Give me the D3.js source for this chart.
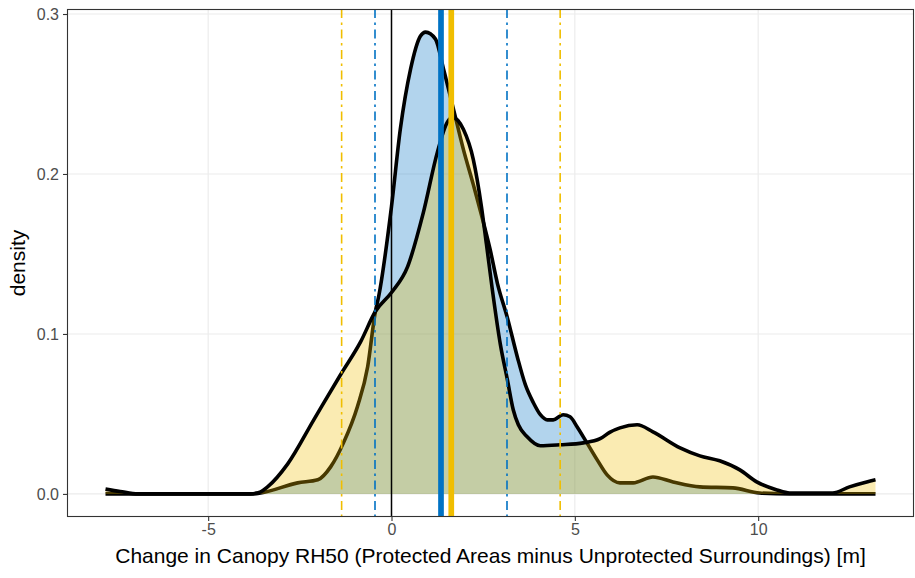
<!DOCTYPE html>
<html>
<head>
<meta charset="utf-8">
<script src="https://cdn.jsdelivr.net/npm/d3@7"></script>
<style>
  html, body { margin: 0; padding: 0; background: #fff; }
  svg { display: block; }
  text { font-family: "Liberation Sans", Arial, Helvetica, sans-serif; }
</style>
</head>
<body>
<svg id="chart" width="915" height="578"></svg>
<script>
// Kernel density estimates of the change in canopy RH50 for two groups of sites
const blueX = [-7.8, -3.84, -3.57, -2.56, -2.01, -1.66, -1.31, -0.93, -0.65, -0.44, -0.35, 0, 0.24, 0.52, 0.79, 0.93, 1.2, 1.42, 1.69, 1.96, 2.23, 2.45, 2.69, 2.89, 3.16, 3.43, 3.65, 3.87, 4.06, 4.25, 4.41, 4.68, 4.87, 5.06, 5.33, 5.61, 5.88, 6.23, 6.59, 7.13, 7.68, 8.41, 9.31, 10.04, 10.86, 13.2];
const blueDensity = [0, 0, 0.0006, 0.0069, 0.0088, 0.0169, 0.0319, 0.0545, 0.0795, 0.114, 0.1234, 0.1797, 0.2279, 0.2655, 0.2862, 0.2887, 0.2843, 0.2655, 0.2405, 0.2154, 0.1935, 0.1747, 0.1528, 0.1315, 0.1102, 0.0858, 0.0683, 0.057, 0.0495, 0.0463, 0.0463, 0.0495, 0.0482, 0.042, 0.0319, 0.0213, 0.0119, 0.0069, 0.0069, 0.0106, 0.0075, 0.0044, 0.0038, 0.0006, 0, 0];

const goldX = [-7.8, -7.4, -6.91, -3.84, -3.57, -3.38, -2.83, -2.12, -1.39, -0.84, -0.44, 0, 0.44, 0.87, 1.25, 1.52, 1.66, 1.96, 2.23, 2.45, 2.59, 2.75, 2.97, 3.16, 3.32, 3.46, 3.7, 4.06, 4.6, 5.23, 5.69, 5.95, 6.23, 6.7, 7.13, 7.87, 8.41, 8.95, 9.5, 9.96, 10.51, 10.86, 12.03, 12.49, 12.96, 13.2];
const goldDensity = [0.003, 0.0015, 0, 0, 0.0013, 0.0044, 0.0188, 0.0463, 0.0745, 0.0952, 0.114, 0.1259, 0.1421, 0.176, 0.2135, 0.2323, 0.2354, 0.2279, 0.2091, 0.1800, 0.1560, 0.1277, 0.0933, 0.0714, 0.0526, 0.0432, 0.0357, 0.0301, 0.0307, 0.0319, 0.0345, 0.0385, 0.0413, 0.0432, 0.0388, 0.0288, 0.0238, 0.0207, 0.015, 0.0075, 0.0025, 0.0006, 0.0006, 0.0044, 0.0075, 0.0088];

// Group means (thick lines) and interval bounds (dot-dash lines)
const blueMean = 1.35;
const goldMean = 1.63;
const blueBounds = [-0.45, 3.15];
const goldBounds = [-1.36, 4.6];

const xTicks = [-5, 0, 5, 10];
const yTicks = [0, 0.1, 0.2, 0.3];
const xTitle = "Change in Canopy RH50 (Protected Areas minus Unprotected Surroundings) [m]";
const yTitle = "density";

const BLUE = "#0072C4";
const GOLD = "#F0BE00";

const panel = { left: 67, right: 914, top: 9, bottom: 517 };

const svg = d3.select("#chart");

// ggplot-style 5% expansion of the data ranges
const xMin = Math.min(d3.min(blueX), d3.min(goldX));
const xMax = Math.max(d3.max(blueX), d3.max(goldX));
const xPad = (xMax - xMin) * 0.05;
const yMax = Math.max(d3.max(blueDensity), d3.max(goldDensity));
const yPad = yMax * 0.05;

const x = d3.scaleLinear().domain([xMin - xPad, xMax + xPad]).range([panel.left, panel.right]);
const y = d3.scaleLinear().domain([-yPad, yMax + yPad]).range([panel.bottom, panel.top]);

svg.append("defs").append("clipPath").attr("id", "panel-clip")
  .append("rect")
  .attr("x", panel.left).attr("y", panel.top)
  .attr("width", panel.right - panel.left).attr("height", panel.bottom - panel.top);

// Grid
const grid = svg.append("g");
grid.selectAll("line.gx").data(xTicks).join("line")
  .attr("x1", d => x(d)).attr("x2", d => x(d))
  .attr("y1", panel.top).attr("y2", panel.bottom)
  .attr("stroke", "#EBEBEB").attr("stroke-width", 1.1);
grid.selectAll("line.gy").data(yTicks).join("line")
  .attr("x1", panel.left).attr("x2", panel.right)
  .attr("y1", d => y(d)).attr("y2", d => y(d))
  .attr("stroke", "#EBEBEB").attr("stroke-width", 1.1);

const plot = svg.append("g").attr("clip-path", "url(#panel-clip)");

function drawDensity(xs, ds, color) {
  const pts = xs.map((v, i) => [v, ds[i]]);
  const area = d3.area()
    .x(d => x(d[0])).y0(y(0)).y1(d => y(d[1]))
    .curve(d3.curveMonotoneX);
  const line = d3.line()
    .x(d => x(d[0])).y(d => y(d[1]))
    .curve(d3.curveMonotoneX);
  plot.append("path").datum(pts)
    .attr("d", area)
    .attr("fill", color).attr("fill-opacity", 0.3);
  plot.append("path").datum(pts)
    .attr("d", line)
    .attr("fill", "none").attr("stroke", "#000")
    .attr("stroke-width", 3.6).attr("stroke-linejoin", "round");
}

drawDensity(blueX, blueDensity, BLUE);
drawDensity(goldX, goldDensity, GOLD);

// Reference lines
function vline(v, color, width, dash) {
  const l = plot.append("line")
    .attr("x1", x(v)).attr("x2", x(v))
    .attr("y1", panel.top).attr("y2", panel.bottom)
    .attr("stroke", color).attr("stroke-width", width);
  if (dash) l.attr("stroke-dasharray", dash);
}
vline(0, "#000", 1.5);
blueBounds.forEach(v => vline(v, BLUE, 1.6, "9,4.5,2.5,4.5"));
goldBounds.forEach(v => vline(v, GOLD, 1.6, "9,4.5,2.5,4.5"));
vline(blueMean, BLUE, 5.7);
vline(goldMean, GOLD, 5.7);

// Panel border
svg.append("rect")
  .attr("x", panel.left + 0.5).attr("y", panel.top + 0.5)
  .attr("width", panel.right - panel.left - 1).attr("height", panel.bottom - panel.top - 1)
  .attr("fill", "none").attr("stroke", "#333").attr("stroke-width", 1.1);

// Axes
const xAxis = svg.append("g")
  .attr("transform", `translate(0,${panel.bottom})`)
  .call(d3.axisBottom(x).tickValues(xTicks).tickFormat(d3.format("d")).tickSize(4).tickPadding(3));
const yAxis = svg.append("g")
  .attr("transform", `translate(${panel.left},0)`)
  .call(d3.axisLeft(y).tickValues(yTicks).tickFormat(d3.format(".1f")).tickSize(4).tickPadding(4));
[xAxis, yAxis].forEach(g => {
  g.select(".domain").remove();
  g.selectAll(".tick line").attr("stroke", "#333").attr("stroke-width", 1.1);
  g.selectAll(".tick text")
    .attr("fill", "#4D4D4D")
    .style("font-size", "16px")
    .style("font-family", "'Liberation Sans', Arial, sans-serif");
});
xAxis.selectAll(".tick text").text(d => d < 0 ? "-" + Math.abs(d) : d);

svg.append("text")
  .attr("x", (panel.left + panel.right) / 2).attr("y", 563)
  .attr("text-anchor", "middle")
  .attr("fill", "#000").style("font-size", "21px")
  .text(xTitle);

svg.append("text")
  .attr("transform", `translate(25,${(panel.top + panel.bottom) / 2}) rotate(-90)`)
  .attr("text-anchor", "middle")
  .attr("fill", "#000").style("font-size", "21px")
  .text(yTitle);
</script>
</body>
</html>
